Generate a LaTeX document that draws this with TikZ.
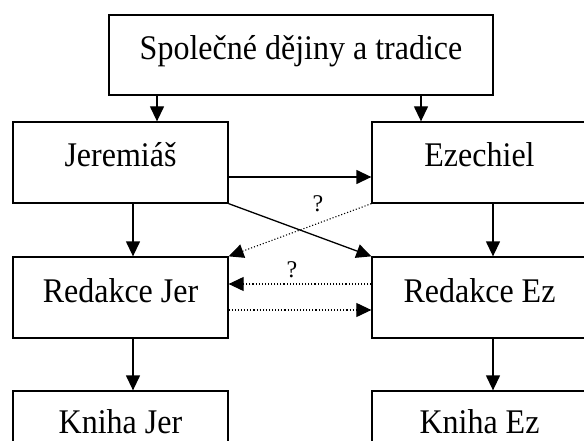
\documentclass[tikz,border=0pt]{standalone}
\usepackage{fontspec}
\usepackage{graphicx}
\setmainfont{Liberation Serif}
\usetikzlibrary{arrows.meta}
\newcommand\tstr[1]{\scalebox{1}[1.08]{#1}}
\begin{document}
\begin{tikzpicture}[x=1pt,y=-1pt,
  box/.style={draw,line width=1.3pt,minimum width=215pt,minimum height=81pt,inner sep=0pt,text height=23pt,text depth=14pt,font=\fontsize{32}{36}\selectfont},
  arr/.style={line width=1.3pt,-{Triangle[length=15pt,width=14pt]}},
  darr/.style={line width=1.1pt,dotted,-{Triangle[length=15pt,width=14pt]}},
  qlab/.style={font=\fontsize{24}{26}\selectfont,inner sep=0pt}]
\useasboundingbox (0,0) rectangle (584,441);
\clip (0,0) rectangle (584,441);
\node[box,minimum width=384pt,minimum height=80pt] (top) at (301,55) {\tstr{Společné dějiny a tradice}};
\node[box] (jer) at (120.5,162.5) {\tstr{Jeremiáš}};
\node[box] (ez) at (479.5,162.5) {\tstr{Ezechiel}};
\node[box] (rjer) at (120.5,297.5) {\tstr{Redakce Jer}};
\node[box] (rez) at (479.5,297.5) {\tstr{Redakce Ez}};
\node[box,minimum height=76pt] (kjer) at (120.5,429) {\tstr{Kniha Jer}};
\node[box,minimum height=76pt] (kez) at (479.5,429) {\tstr{Kniha Ez}};
\draw[arr] ([xshift=36.5pt]jer.north |- top.south) -- ([xshift=36.5pt]jer.north);
\draw[arr] ([xshift=-58.5pt]ez.north |- top.south) -- ([xshift=-58.5pt]ez.north);
\draw[arr] ([xshift=12.5pt]jer.south) -- ([xshift=12.5pt]rjer.north);
\draw[arr] ([xshift=13.5pt]ez.south) -- ([xshift=13.5pt]rez.north);
\draw[arr] ([xshift=12.5pt]rjer.south) -- ([xshift=12.5pt]kjer.north);
\draw[arr] ([xshift=13.5pt]rez.south) -- ([xshift=13.5pt]kez.north);
\draw[arr] ([yshift=-14.5pt]jer.east) -- ([yshift=-14.5pt]jer.east -| ez.west);
\draw[arr] (jer.south east) -- (rez.north west);
\draw[darr] (ez.south west) -- (rjer.north east);
\draw[darr] ([yshift=13.5pt]rez.west) -- ([yshift=13.5pt]rjer.east);
\draw[darr] ([yshift=-12.5pt]rjer.east) -- ([yshift=-12.5pt]rez.west);
\node[qlab] (q1) at (318,204) {?};
\node[qlab] (q2) at (292,270) {?};
\end{tikzpicture}
\end{document}
